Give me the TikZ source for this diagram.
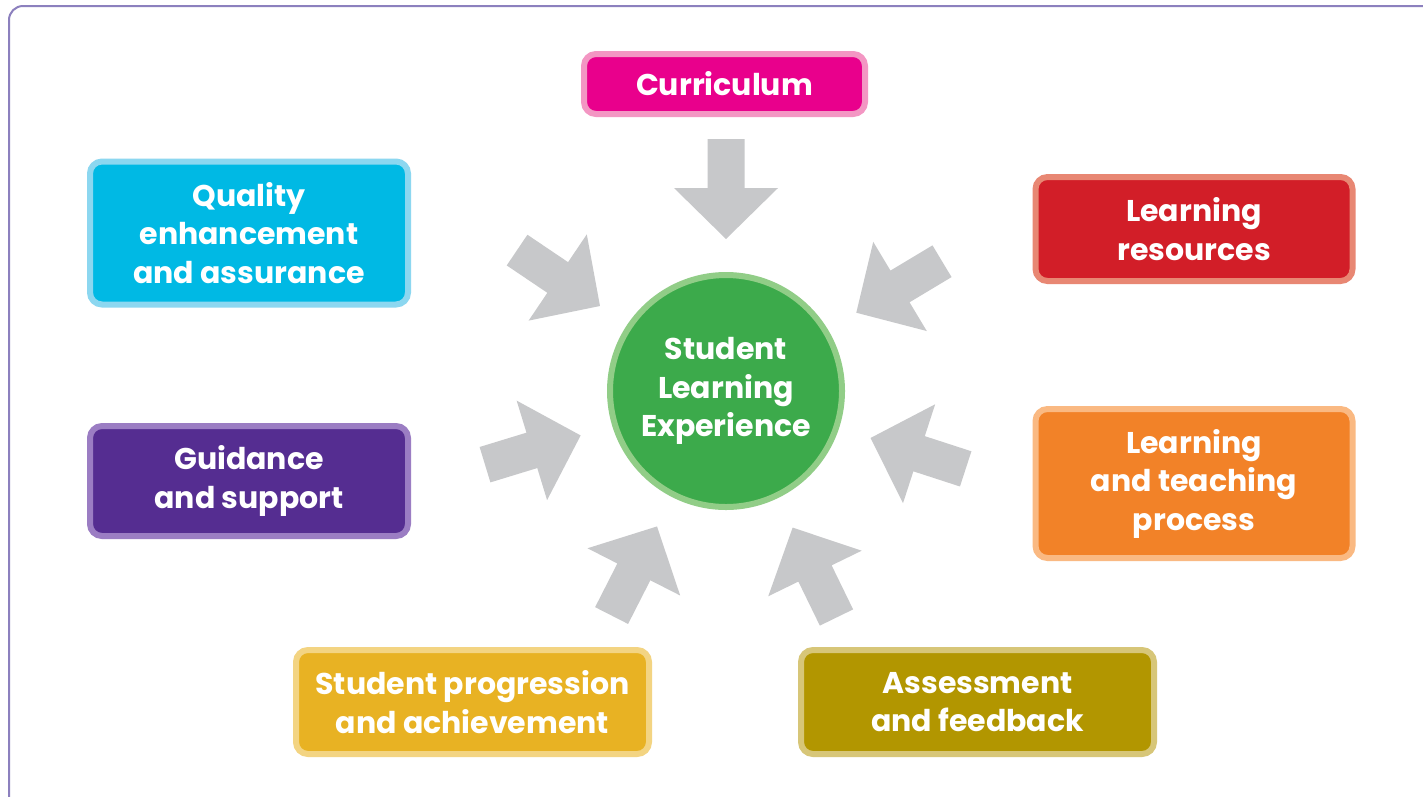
\documentclass[tikz,border=0pt]{standalone}
\usepackage{fontspec}
\setmainfont{Poppins}

\definecolor{framepurple}{RGB}{140,128,190}
\definecolor{arrowgrey}{RGB}{199,200,202}
\definecolor{hubgreen}{RGB}{60,170,75}
\definecolor{hubrim}{RGB}{145,205,135}
\definecolor{curfill}{RGB}{233,0,140}
\definecolor{currim}{RGB}{243,150,195}
\definecolor{qualfill}{RGB}{0,185,228}
\definecolor{qualrim}{RGB}{140,215,240}
\definecolor{resfill}{RGB}{210,30,40}
\definecolor{resrim}{RGB}{232,135,115}
\definecolor{guidfill}{RGB}{85,45,145}
\definecolor{guidrim}{RGB}{155,125,195}
\definecolor{teachfill}{RGB}{242,130,40}
\definecolor{teachrim}{RGB}{250,185,130}
\definecolor{progfill}{RGB}{232,178,35}
\definecolor{progrim}{RGB}{243,212,130}
\definecolor{assessfill}{RGB}{178,150,0}
\definecolor{assessrim}{RGB}{215,198,120}

\begin{document}
\begin{tikzpicture}[x=1pt, y=1pt,
  areabox/.style={rounded corners=12pt, line width=6pt, text=white, align=center,
    inner sep=0pt, font=\bfseries\fontsize{30}{38.5}\selectfont},
  hub/.style={circle, line width=6pt, fill=hubgreen, draw=hubrim, text=white,
    align=center, minimum size=232pt, inner sep=0pt,
    font=\bfseries\fontsize{30}{38.5}\selectfont}]
\useasboundingbox (0, 0) rectangle (1423, -796);
\fill [white] (0, 0) rectangle (1423, -796);
\clip (0, 0) rectangle (1423, -796);
\draw [framepurple, line width=2pt, rounded corners=14pt] (9, -6) rectangle (1450, -815);

% Centre
\node [hub] (hub) at (726, -391) {Student\\Learning\\Experience};

% Grey arrows
\foreach \a in {90, 31, -18, -64, 243, 197, 146}
{
\fill [arrowgrey, shift={(hub.center)}, rotate=\a] (252, 18.5) -- (203, 18.5) -- (203, 52) -- (152, 0) -- (203, -52) -- (203, -18.5) -- (252, -18.5) -- cycle;
}

% Areas
\node [areabox, fill=curfill, draw=currim, minimum width=281pt, minimum height=60pt] (curriculum) at (724.5, -84) {Curriculum};
\node [areabox, fill=qualfill, draw=qualrim, minimum width=318pt, minimum height=143pt] (quality) at (249, -233) {Quality\\enhancement\\and assurance};
\node [areabox, fill=resfill, draw=resrim, minimum width=317pt, minimum height=104pt] (resources) at (1194, -229) {Learning\\resources};
\node [areabox, fill=guidfill, draw=guidrim, minimum width=318pt, minimum height=110pt] (guidance) at (249, -481) {Guidance\\and support};
\node [areabox, fill=teachfill, draw=teachrim, minimum width=317pt, minimum height=149pt] (teaching) at (1194, -483.5) {Learning\\and teaching\\process};
\node [areabox, fill=progfill, draw=progrim, minimum width=353pt, minimum height=104pt] (progression) at (472.5, -702) {Student progression\\and achievement};
\node [areabox, fill=assessfill, draw=assessrim, minimum width=353pt, minimum height=104pt] (assessment) at (977.5, -702) {Assessment\\and feedback};
\end{tikzpicture}
\end{document}
